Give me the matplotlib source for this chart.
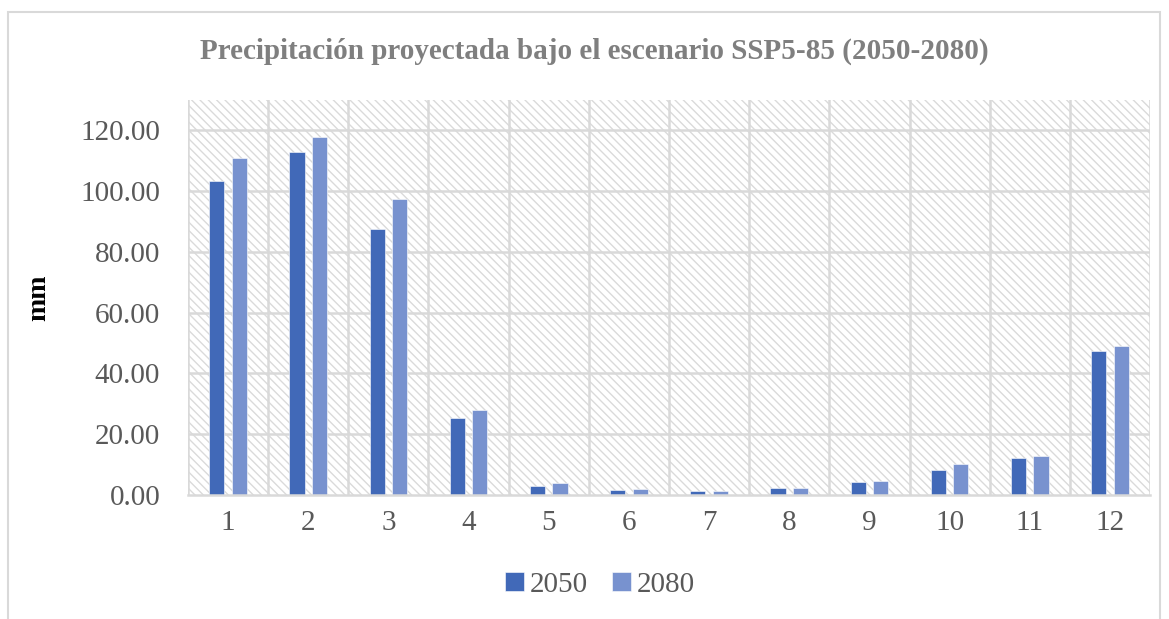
import numpy as np
import matplotlib.pyplot as plt
from matplotlib.patches import Rectangle

plt.rcParams['font.family'] = ['Liberation Serif', 'DejaVu Serif']
plt.rcParams['hatch.linewidth'] = 1.0

meses = ['1', '2', '3', '4', '5', '6', '7', '8', '9', '10', '11', '12']
p2050 = [103.3, 112.9, 87.6, 25.3, 3.1, 1.5, 1.3, 2.2, 4.4, 8.1, 12.1, 47.3]
p2080 = [110.8, 117.8, 97.3, 28.0, 3.9, 2.0, 1.4, 2.3, 4.6, 10.3, 12.9, 49.1]
yticks = [0, 20, 40, 60, 80, 100, 120]

C2050 = '#4169B8'
C2080 = '#7892CF'
GRIS = '#595959'

fig = plt.figure(figsize=(11.69, 6.19), dpi=100)
ax = fig.add_axes([188 / 1169, 1 - 495 / 619, (1150 - 188) / 1169, (495 - 100) / 619])

# borde del grafico
fig.patches.append(Rectangle((8 / 1169, -0.05), (1160 - 8) / 1169, 1 - 12 / 619 + 0.05,
                             transform=fig.transFigure, fill=False,
                             edgecolor='#d9d9d9', linewidth=1.5))

# fondo con trama
ax.set_facecolor('white')
ax.add_patch(Rectangle((0, 0), 1, 1, transform=ax.transAxes, facecolor='white',
                       edgecolor='#dadada', hatch='\\\\\\\\', linewidth=0, zorder=0))

x = np.arange(len(meses))
ancho = 0.19
ax.bar(x - 0.14, p2050, ancho, color=C2050, label='2050', zorder=3,
       edgecolor='white', linewidth=0.4)
ax.bar(x + 0.14, p2080, ancho, color=C2080, label='2080', zorder=3,
       edgecolor='white', linewidth=0.4)

ax.set_xlim(-0.5, len(meses) - 0.5)
ax.set_ylim(0, 130)
ax.set_yticks(yticks)
ax.set_yticklabels([f'{v:.2f}' for v in yticks])
ax.set_xticks(x)
ax.set_xticklabels(meses)

for v in yticks[1:]:
    ax.axhline(v, color='#d9d9d9', linewidth=1.8, zorder=1)
for b in np.arange(-0.5, len(meses), 1.0):
    ax.axvline(b, color='#d9d9d9', linewidth=1.8, zorder=1)

for s in ['top', 'right', 'left']:
    ax.spines[s].set_visible(False)
ax.spines['bottom'].set_color('#d9d9d9')
ax.spines['bottom'].set_linewidth(1.8)
ax.spines['bottom'].set_zorder(4)

ax.tick_params(axis='both', length=0, labelsize=21, colors=GRIS)
ax.tick_params(axis='y', pad=20)
ax.tick_params(axis='x', pad=11)

ax.set_ylabel('mm', fontsize=20, fontweight='bold', color='black', labelpad=21)

fig.text(594 / 1169, 1 - 51 / 619, 'Precipitación proyectada bajo el escenario SSP5-85 (2050-2080)',
         ha='center', va='center', fontsize=21, fontweight='bold', color='#7f7f7f')

fig.legend(loc='center', bbox_to_anchor=(600 / 1169, 1 - 585 / 619), ncol=2, frameon=False,
           fontsize=21, labelcolor=GRIS, handlelength=0.65, handleheight=0.65,
           handletextpad=0.2, columnspacing=0.8)

fig.savefig('out.png', dpi=100)
